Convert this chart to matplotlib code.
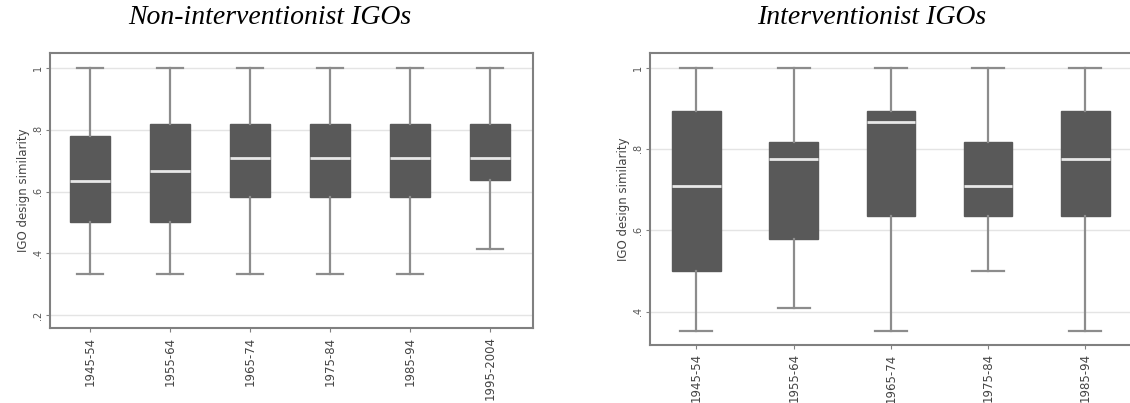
import matplotlib.pyplot as plt

# Box summaries (IGO design similarity by decade)
left_periods = ['1945-54', '1955-64', '1965-74', '1975-84', '1985-94', '1995-2004']
left_whislo = [0.333, 0.333, 0.333, 0.333, 0.333, 0.413]
left_q1 = [0.50, 0.50, 0.583, 0.583, 0.583, 0.639]
left_med = [0.635, 0.667, 0.71, 0.71, 0.71, 0.71]
left_q3 = [0.78, 0.82, 0.82, 0.82, 0.82, 0.82]
left_whishi = [1.0, 1.0, 1.0, 1.0, 1.0, 1.0]

right_periods = ['1945-54', '1955-64', '1965-74', '1975-84', '1985-94']
right_whislo = [0.353, 0.409, 0.353, 0.50, 0.353]
right_q1 = [0.50, 0.578, 0.634, 0.634, 0.634]
right_med = [0.708, 0.776, 0.866, 0.708, 0.776]
right_q3 = [0.894, 0.817, 0.894, 0.817, 0.894]
right_whishi = [1.0, 1.0, 1.0, 1.0, 1.0]

box_color = '#595959'
whisk_color = '#8c8c8c'
frame_color = '#808080'


def make_stats(labels, lo, q1, med, q3, hi):
    stats = []
    for i in range(len(labels)):
        stats.append({'label': labels[i], 'whislo': lo[i], 'q1': q1[i],
                      'med': med[i], 'q3': q3[i], 'whishi': hi[i], 'fliers': []})
    return stats


def draw_panel(ax, labels, stats, ylim, yticks, yticklabels):
    ax.bxp(stats, positions=range(1, len(labels) + 1), widths=0.5,
           patch_artist=True, showfliers=False,
           boxprops=dict(facecolor=box_color, edgecolor=box_color, linewidth=1),
           medianprops=dict(color='#e8e8e8', linewidth=2),
           whiskerprops=dict(color=whisk_color, linewidth=1.6),
           capprops=dict(color=whisk_color, linewidth=1.6),
           capwidths=0.33)
    ax.set_ylim(*ylim)
    ax.set_yticks(yticks)
    ax.set_yticklabels(yticklabels, rotation=90, va='center', fontsize=7, color='#555555')
    ax.set_xticks(range(1, len(labels) + 1))
    ax.set_xticklabels(labels, rotation=90, fontsize=8.5, color='#444444')
    ax.grid(axis='y', color='#e4e4e4', linewidth=1)
    ax.set_axisbelow(True)
    ax.tick_params(axis='y', length=3, color=frame_color, pad=2)
    ax.tick_params(axis='x', length=3, color=frame_color, pad=3)
    for s in ax.spines.values():
        s.set_color(frame_color)
        s.set_linewidth(1.5)
    ax.set_ylabel('IGO design similarity', fontsize=8.5, color='#444444', labelpad=2)


fig = plt.figure(figsize=(11.3, 4.03), dpi=100)

ax1 = fig.add_axes([0.0442, 0.186, 0.4274, 0.682])
draw_panel(ax1, left_periods,
           make_stats(left_periods, left_whislo, left_q1, left_med, left_q3, left_whishi),
           (0.158, 1.048), [0.2, 0.4, 0.6, 0.8, 1.0], ['.2', '.4', '.6', '.8', '1'])
ax1.set_xlim(0.5, 6.54)

ax2 = fig.add_axes([0.575, 0.144, 0.426, 0.7246])
draw_panel(ax2, right_periods,
           make_stats(right_periods, right_whislo, right_q1, right_med, right_q3, right_whishi),
           (0.318, 1.036), [0.4, 0.6, 0.8, 1.0], ['.4', '.6', '.8', '1'])
ax2.set_xlim(0.52, 5.47)

fig.text(270 / 1130, 1 - 18 / 403, 'Non-interventionist IGOs', ha='center', va='center',
         fontsize=20, style='italic', family='Liberation Serif')
fig.text(872 / 1130, 1 - 18 / 403, 'Interventionist IGOs', ha='center', va='center',
         fontsize=20, style='italic', family='Liberation Serif')

fig.savefig('out.png', dpi=100)
